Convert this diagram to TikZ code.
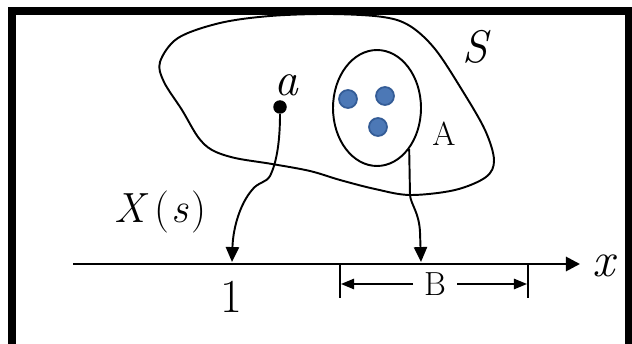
\documentclass[tikz,border=0pt]{standalone}
\usepackage{fontspec}
\usetikzlibrary{arrows.meta,shapes.geometric}
\definecolor{dotblue}{RGB}{76,120,182}
\definecolor{dotedge}{RGB}{52,92,150}
\begin{document}
\begin{tikzpicture}[x=0.02cm,y=-0.02cm,
  curve/.style={line width=1.1pt},
  downarrow/.style={curve,-{Triangle[length=8.5pt,width=7.5pt]}},
  barrow/.style={line width=0.8pt,-{Triangle[length=7.5pt,width=6pt]}},
  tick/.style={line width=0.8pt},
  lbl/.style={inner sep=0pt},
  bluedot/.style={circle,fill=dotblue,draw=dotedge,line width=1pt,minimum size=0.36cm,inner sep=0pt}]
\useasboundingbox (0,0) rectangle (632,344);
% frame
\draw[line width=4.5pt] (12,11) rectangle (629,348);
% set S
\draw[curve] plot[smooth cycle, tension=0.55] coordinates {
 (160,62) (178,38) (220,23) (270,16) (330,14) (383,17) (410,26) (435,49)
 (462,90) (485,130) (494,160) (486,177) (455,190) (410,195) (375,189)
 (340,180) (310,171) (272,164) (235,158) (212,150) (198,137) (182,110) (164,82)};
\node[lbl,font=\fontsize{26}{30}\selectfont\itshape] (S) at (475,47) {S};
% set A
\node[draw,ellipse,curve,minimum width=1.76cm,minimum height=2.32cm,inner sep=0pt] (A) at (377,108) {};
\node[lbl,font=\fontsize{19}{22}\selectfont] (Alab) at (444,134) {A};
\node[bluedot] (d1) at (348,99) {};
\node[bluedot] (d2) at (385,96) {};
\node[bluedot] (d3) at (378,127) {};
% point a
\node[circle,fill=black,minimum size=0.27cm,inner sep=0pt] (pa) at (280,107) {};
\node[lbl,font=\fontsize{27}{30}\selectfont\itshape] (la) at (286,85) {a};
% axis
\coordinate (ax0) at (73,264);
\coordinate (ax1) at (580,264);
\draw[line width=1.6pt,-{Triangle[length=8pt,width=8pt]}] (ax0) -- (ax1);
\node[lbl,font=\fontsize{28}{32}\selectfont\itshape] (xl) at (604,266) {x};
% mapping arrows
\coordinate (t1) at (232,262);
\coordinate (t2) at (421,262);
\draw[downarrow] (pa.south) .. controls (280,140) and (277,162) .. (270,176)
  .. controls (266,183) and (258,182) .. (252,190)
  .. controls (240,204) and (233,228) .. (t1);
\draw[downarrow] (A.-52) -- (410,195) .. controls (411,205) and (419,212) .. (420,232) -- (t2);
\node[lbl,font=\fontsize{24}{28}\selectfont] (Xs) at (160,212) {\textit{X}\hspace{0.15em}(\hspace{0.05em}\textit{s}\hspace{0.05em})};
\node[lbl,font=\fontsize{27}{32}\selectfont] (one) at (231,297) {1};
% interval B
\coordinate (k1a) at (340,264);
\coordinate (k1b) at (340,298);
\coordinate (k2a) at (528,264);
\coordinate (k2b) at (528,298);
\draw[tick] (k1a) -- (k1b);
\draw[tick] (k2a) -- (k2b);
\node[lbl,font=\fontsize{19}{22}\selectfont] (B) at (435,284) {B};
\coordinate (bl0) at (413,284);
\coordinate (bl1) at (341,284);
\coordinate (br0) at (457,284);
\coordinate (br1) at (527,284);
\draw[barrow] (bl0) -- (bl1);
\draw[barrow] (br0) -- (br1);
\end{tikzpicture}
\end{document}
